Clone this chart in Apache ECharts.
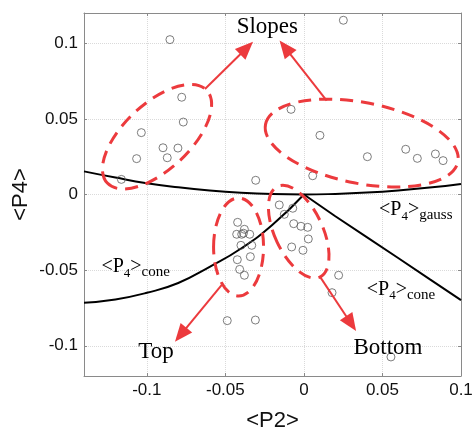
<!DOCTYPE html>
<html>
<head>
<meta charset="utf-8">
<script src="https://cdn.jsdelivr.net/npm/echarts@6/dist/echarts.min.js"></script>
<style>
  html, body { margin: 0; padding: 0; background: #ffffff; }
  #chart { width: 473px; height: 427px; }
</style>
</head>
<body>
<div id="chart"></div>
<script>
// Measured order parameters: <P2> and <P4> of each sample
const p2Values = [
  -0.0853, -0.0778, -0.0768, -0.1035, -0.0897, -0.0802, -0.0870, -0.1065, -0.1162,
   0.0251, -0.0082,  0.0102,  0.0404,  0.0648,  0.0722,  0.0837,  0.0886,  0.0056, -0.0307,
  -0.0157, -0.0125, -0.0071, -0.0065, -0.0019,  0.0024,  0.0028, -0.0078, -0.0006,  0.0221, 0.0179,
  -0.0422, -0.0379, -0.0428, -0.0396, -0.0385, -0.0345, -0.0401, -0.0332, -0.0341, -0.0424, -0.0409, -0.0379,
  -0.0488, -0.0309,  0.0554
];
const p4Values = [
   0.1024,  0.0643,  0.0479,  0.0409,  0.0309,  0.0307,  0.0243,  0.0237,  0.0100,
   0.1152,  0.0563,  0.0391,  0.0250,  0.0299,  0.0239,  0.0268,  0.0224,  0.0124,  0.0094,
  -0.0069, -0.0131, -0.0091, -0.0193, -0.0210, -0.0217, -0.0294, -0.0347, -0.0369, -0.0534, -0.0649,
  -0.0184, -0.0230, -0.0263, -0.0263, -0.0256, -0.0263, -0.0336, -0.0336, -0.0411, -0.0431, -0.0495, -0.0534,
  -0.0834, -0.0830, -0.1074
];

// Gaussian-distribution reference curve
const gaussP2 = [-0.14, -0.12, -0.10, -0.08, -0.06, -0.04, -0.02, 0.00, 0.02, 0.04, 0.06, 0.08, 0.10];
const gaussP4 = [0.0153, 0.0112, 0.0075, 0.0048, 0.0027, 0.0012, 0.0003, 0.0000, 0.0004, 0.0013, 0.0027, 0.0046, 0.0070];

// Cone-distribution boundary, left and right branches
const coneLeftP2 = [-0.14, -0.12, -0.10, -0.08, -0.06, -0.04, -0.02, 0.0];
const coneLeftP4 = [-0.0715, -0.0694, -0.0650, -0.0585, -0.0478, -0.0357, -0.0200, 0.0];
const coneRightP2 = [0.0, 0.02, 0.04, 0.06, 0.08, 0.10];
const coneRightP4 = [0.0, -0.0144, -0.0282, -0.0420, -0.0560, -0.0698];

// Tick values
const p2Ticks = [-0.1, -0.05, 0, 0.05, 0.1];
const p4Ticks = [-0.1, -0.05, 0, 0.05, 0.1];

const RED = '#ec3a3d';
const FRAME = '#8a8a8a';
const zip = (xs, ys) => xs.map((x, i) => [x, ys[i]]);

const chart = echarts.init(document.getElementById('chart'), null, { renderer: 'canvas' });

const tickFmt = v => (Math.abs(v) < 1e-9 ? '0' : String(Math.round(v * 1000) / 1000));

function mainAxis(ticks, name, gap, rotate) {
  return {
    type: 'value',
    name: name,
    nameLocation: 'middle',
    nameGap: gap,
    nameRotate: rotate,
    nameMoveOverlap: false,
    nameTextStyle: { fontFamily: 'Liberation Sans', fontSize: 22, color: '#111' },
    axisLine: { show: true, onZero: false, lineStyle: { color: FRAME, width: 1 } },
    axisTick: { show: true, inside: true, length: 3, customValues: ticks, lineStyle: { color: FRAME } },
    axisLabel: { customValues: ticks, formatter: tickFmt, fontFamily: 'Liberation Sans', fontSize: 17, color: '#111', margin: 6 },
    splitLine: { show: true, lineStyle: { color: '#dadada', type: 'dotted', width: 1 } }
  };
}
function mirrorAxis(ticks, pos) {
  return {
    type: 'value',
    position: pos,
    axisLine: { show: true, onZero: false, lineStyle: { color: FRAME, width: 1 } },
    axisTick: { show: true, inside: true, length: 3, customValues: ticks, lineStyle: { color: FRAME } },
    axisLabel: { show: false },
    splitLine: { show: false }
  };
}

const xMain = Object.assign(mainAxis(p2Ticks, '<P2>', 34, 0), { min: -0.14, max: 0.1 });
const xTop = Object.assign(mirrorAxis(p2Ticks, 'top'), { min: -0.14, max: 0.1 });
const yMain = Object.assign(mainAxis(p4Ticks, '<P4>', 52, 90), { min: -0.12, max: 0.12 });
const yRight = Object.assign(mirrorAxis(p4Ticks, 'right'), { min: -0.12, max: 0.12 });

chart.setOption({
  animation: false,
  backgroundColor: '#ffffff',
  grid: { left: 84, right: 12, top: 13, bottom: 51, outerBoundsMode: 'none', containLabel: false },
  xAxis: [xMain, xTop],
  yAxis: [yMain, yRight],
  series: [
    {
      type: 'line', data: zip(gaussP2, gaussP4), smooth: true, showSymbol: false,
      lineStyle: { color: '#000', width: 2 }, z: 3
    },
    {
      type: 'line', data: zip(coneLeftP2, coneLeftP4), smooth: true, showSymbol: false,
      lineStyle: { color: '#000', width: 2 }, z: 3
    },
    {
      type: 'line', data: zip(coneRightP2, coneRightP4), smooth: false, showSymbol: false,
      lineStyle: { color: '#000', width: 2 }, z: 3
    },
    {
      type: 'scatter', data: zip(p2Values, p4Values), symbol: 'circle', symbolSize: 8,
      itemStyle: { color: 'rgba(255,255,255,0)', borderColor: '#5c5c5c', borderWidth: 1 }, z: 4
    }
  ]
});

// Annotation overlay: dashed ellipses, arrows and labels anchored to data coordinates
const px = (x, y) => chart.convertToPixel({ xAxisIndex: 0, yAxisIndex: 0 }, [x, y]);

function ellipse(cx, cy, rx, ry, deg) {
  const c = px(cx, cy);
  return {
    type: 'ellipse', x: c[0], y: c[1], rotation: deg * Math.PI / 180, z: 50,
    shape: { cx: 0, cy: 0, rx: rx, ry: ry },
    style: { fill: null, stroke: RED, lineWidth: 3, lineDash: [13, 8] }
  };
}
function arrow(x0, y0, x1, y1) {
  const s = px(x0, y0), t = px(x1, y1);
  const dx = t[0] - s[0], dy = t[1] - s[1];
  const len = Math.hypot(dx, dy);
  const ux = dx / len, uy = dy / len;
  const L = 18, W = 7.5;
  const bx = t[0] - ux * L, by = t[1] - uy * L;
  return [
    { type: 'line', z: 51, shape: { x1: s[0], y1: s[1], x2: bx + ux * 2, y2: by + uy * 2 },
      style: { stroke: RED, lineWidth: 2 } },
    { type: 'polygon', z: 51,
      shape: { points: [[t[0], t[1]], [bx - uy * W, by + ux * W], [bx + uy * W, by - ux * W]] },
      style: { fill: RED } }
  ];
}
function word(x, y, text) {
  const c = px(x, y);
  return {
    type: 'text', x: c[0], y: c[1], z: 52,
    style: { text: text, font: '23px "Liberation Serif"', fill: '#000', align: 'left', verticalAlign: 'middle' }
  };
}
function orderLabel(x, y, sub) {
  const c = px(x, y);
  const serif = 'Liberation Serif';
  return {
    type: 'text', x: c[0], y: c[1], z: 52,
    style: {
      text: '{m|<P}{n|4}{m|>}{s|' + sub + '}',
      align: 'left', verticalAlign: 'middle', fill: '#000',
      rich: {
        m: { fontFamily: serif, fontSize: 20, fill: '#000', padding: [0, 0, 3, 0], verticalAlign: 'bottom' },
        n: { fontFamily: serif, fontSize: 13, fill: '#000', verticalAlign: 'bottom' },
        s: { fontFamily: serif, fontSize: 15, fill: '#000', verticalAlign: 'bottom' }
      }
    }
  };
}

const graphics = [
  ellipse(-0.0935, 0.0382, 68, 33, 43),
  ellipse(0.0368, 0.0340, 98, 40.5, -11),
  ellipse(-0.0416, -0.0347, 25, 49, 0),
  ellipse(-0.0033, -0.0246, 24, 50, 25),
  ...arrow(-0.0630, 0.0698, -0.0324, 0.1010),
  ...arrow(0.0145, 0.0620, -0.0155, 0.1018),
  ...arrow(-0.0523, -0.0598, -0.0821, -0.0973),
  ...arrow(0.0102, -0.0543, 0.0332, -0.0903),
  word(-0.0428, 0.1107, 'Slopes'),
  word(-0.1055, -0.1041, 'Top'),
  word(0.0315, -0.1015, 'Bottom'),
  orderLabel(0.0478, -0.0110, 'gauss'),
  orderLabel(-0.1289, -0.0488, 'cone'),
  orderLabel(0.0400, -0.0637, 'cone')
];

chart.setOption({ graphic: graphics });
</script>
</body>
</html>
